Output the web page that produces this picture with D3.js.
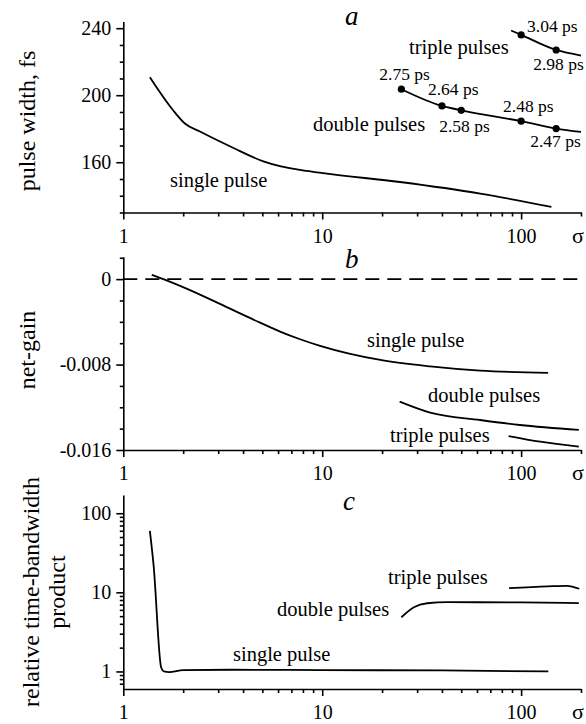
<!DOCTYPE html>
<html lang="en">
<head>
<meta charset="UTF-8">
<title>pulse width, net-gain and time-bandwidth vs sigma</title>
<script src="https://cdn.jsdelivr.net/npm/d3@7"></script>
<style>
  body { margin:0; background:#fff; }
  svg { display:block; font-family: "Liberation Serif", "DejaVu Serif", Times, serif; }
  svg text { font-family: "Liberation Serif", "DejaVu Serif", Times, serif !important; fill:#000; }
  .axis path, .axis line { stroke:#000; stroke-width:1.6px; }
  .axis text { font-size:20px; }
  .curve { fill:none; stroke:#000; stroke-width:1.8px; }
  .lbl { font-size:20.5px; }
  .ps { font-size:17.5px; }
  .ttl { font-size:24px; }
  .pnl { font-size:27px; font-style:italic; }
</style>
</head>
<body>
<svg id="fig" width="586" height="724" font-family="Liberation Serif, serif"></svg>
<script>
// sigma axis, shared by the three panels
const sigmaTicks = [1, 10, 100];
const sigmaMinor = [2,3,4,5,6,7,8,9,20,30,40,50,60,70,80,90,200];

// (a) pulse width, fs
const aSingleSigma = [1.36, 1.78, 2.04, 2.43, 3.58, 5.06, 6.2, 7.74, 10.1, 24.6, 62.3, 142];
const aSingleWidth = [210.7, 191.0, 183.1, 178.3, 168.5, 160.5, 157.5, 155.5, 153.5, 148.2, 141.3, 133.3];
const aDoubleSigma = [25, 40, 50, 100, 150, 200];
const aDoubleWidth = [203.6, 193.6, 191.0, 184.5, 180.1, 178.1];
const aDoubleSep   = ["2.75 ps", "2.64 ps", "2.58 ps", "2.48 ps", "2.47 ps"];
const aTripleSigma = [89, 100, 150, 200];
const aTripleWidth = [238.6, 236.0, 227.0, 223.7];
const aTripleSep   = ["3.04 ps", "2.98 ps"];   // at the 2nd and 3rd points
const aTicks  = [160, 200, 240];
const aMinor  = [130, 140, 150, 170, 180, 190, 210, 220, 230];

// (b) net-gain
const bSingleSigma = [1.39, 1.59, 2.08, 3.06, 4.51, 6.14, 7.74, 9.76, 19.6, 34.9, 62.2, 136.7];
const bSingleGain  = [0.0004, 0, -0.00089, -0.00232, -0.00379, -0.00491, -0.00563, -0.00625, -0.00757, -0.00817, -0.00857, -0.00877];
const bDoubleSigma = [24.5, 34.9, 62.2, 98.6, 195];
const bDoubleGain  = [-0.01147, -0.0125, -0.01319, -0.01366, -0.01412];
const bTripleSigma = [86.5, 124.7, 195];
const bTripleGain  = [-0.01469, -0.01522, -0.01569];
const bTicks  = [0, -0.008, -0.016];
const bLabels = ["0", "-0.008", "-0.016"];
const bMinor  = [0.002, -0.002, -0.004, -0.006, -0.010, -0.012, -0.014];

// (c) relative time-bandwidth product
const cSingleSigma = [1.36, 1.42, 1.55, 1.6, 1.7, 2.0, 3.5, 10, 40, 137];
const cSingleTbp   = [60, 22, 1.12, 1.0, 0.98, 1.04, 1.05, 1.04, 1.03, 1.0];
const cDoubleSigma = [25, 28.9, 33.7, 42.6, 100, 195];
const cDoubleTbp   = [4.84, 6.48, 7.28, 7.5, 7.45, 7.3];
const cTripleSigma = [87, 136, 170, 196];
const cTripleTbp   = [11.3, 11.9, 12.1, 11.1];
const cTicks  = [1, 10, 100];
const cMinor  = [0.7,0.8,0.9,2,3,4,5,6,7,8,9,20,30,40,50,60,70,80,90];

const svg = d3.select("#fig");
const x = d3.scaleLog().domain([1, 200]).range([123.3, 581]);

const yA = d3.scaleLinear().domain([130, 244]).range([212.5, 21.5]);
const yB = d3.scaleLinear().domain([-0.016, 0.0021]).range([450, 256.7]);
const yC = d3.scaleLog().domain([0.6, 170]).range([689, 495]);

function frame(y, majors, labels, minors) {
  const base = y.range()[0];
  const xa = svg.append("g").attr("class", "axis").attr("transform", `translate(0,${base})`);
  xa.call(d3.axisBottom(x).tickValues(sigmaTicks).tickFormat(d3.format("d"))
           .tickSize(7).tickPadding(9).tickSizeOuter(0));
  const xm = svg.append("g").attr("class", "axis").attr("transform", `translate(0,${base})`);
  xm.call(d3.axisBottom(x).tickValues(sigmaMinor).tickFormat("").tickSize(4));
  xm.select(".domain").remove();
  svg.append("text").attr("x", 578).attr("y", base + 30)
     .attr("text-anchor", "middle").style("font-size", "22px").text("σ");

  const x0 = x.range()[0];
  const ya = svg.append("g").attr("class", "axis").attr("transform", `translate(${x0},0)`);
  ya.call(d3.axisLeft(y).tickValues(majors).tickFormat((d, i) => labels[i])
           .tickSize(7).tickPadding(5).tickSizeOuter(0));
  const ym = svg.append("g").attr("class", "axis").attr("transform", `translate(${x0},0)`);
  ym.call(d3.axisLeft(y).tickValues(minors).tickFormat("").tickSize(3.5));
  ym.select(".domain").remove();
}

function curve(y, xs, ys) {
  const line = d3.line().x(d => x(d[0])).y(d => y(d[1])).curve(d3.curveMonotoneX);
  svg.append("path").attr("class", "curve").attr("d", line(d3.zip(xs, ys)));
}

function label(px, py, s, cls) {
  svg.append("text").attr("class", cls || "lbl").attr("x", px).attr("y", py).text(s);
}

function yTitle(cx, cy, s) {
  svg.append("text").attr("class", "ttl").attr("text-anchor", "middle")
     .attr("transform", `translate(${cx},${cy}) rotate(-90)`).attr("dy", "0.3em").text(s);
}

// ---- panel a
frame(yA, aTicks, aTicks.map(String), aMinor);
curve(yA, aSingleSigma, aSingleWidth);
curve(yA, aDoubleSigma, aDoubleWidth);
curve(yA, aTripleSigma, aTripleWidth);

const dblOff = [[-22, -9], [-14, -11], [-22, 22], [-18, -9], [-26, 18]];
aDoubleSep.forEach((s, i) => {
  const px = x(aDoubleSigma[i]), py = yA(aDoubleWidth[i]);
  svg.append("circle").attr("cx", px).attr("cy", py).attr("r", 3.6);
  label(px + dblOff[i][0], py + dblOff[i][1], s, "ps");
});
const triOff = [[6, -3], [-23, 20]];
aTripleSep.forEach((s, i) => {
  const px = x(aTripleSigma[i + 1]), py = yA(aTripleWidth[i + 1]);
  svg.append("circle").attr("cx", px).attr("cy", py).attr("r", 3.6);
  label(px + triOff[i][0], py + triOff[i][1], s, "ps");
});
label(170, 187, "single pulse");
label(313, 131, "double pulses");
label(409, 54, "triple pulses");
svg.append("text").attr("class", "pnl").attr("x", 345).attr("y", 25).text("a");
yTitle(28, 121, "pulse width, fs");

// ---- panel b
frame(yB, bTicks, bLabels, bMinor);
svg.append("line")
   .attr("x1", x.range()[0]).attr("x2", x.range()[1])
   .attr("y1", yB(0)).attr("y2", yB(0))
   .attr("stroke", "#000").attr("stroke-width", 1.8).attr("stroke-dasharray", "14,8");
curve(yB, bSingleSigma, bSingleGain);
curve(yB, bDoubleSigma, bDoubleGain);
curve(yB, bTripleSigma, bTripleGain);
label(367, 347, "single pulse");
label(428, 402, "double pulses");
label(390, 442, "triple pulses");
svg.append("text").attr("class", "pnl").attr("x", 345).attr("y", 268).text("b");
yTitle(28, 350, "net-gain");

// ---- panel c
frame(yC, cTicks, cTicks.map(String), cMinor);
curve(yC, cSingleSigma, cSingleTbp);
curve(yC, cDoubleSigma, cDoubleTbp);
curve(yC, cTripleSigma, cTripleTbp);
label(233, 661, "single pulse");
label(277, 616, "double pulses");
label(388, 584, "triple pulses");
svg.append("text").attr("class", "pnl").attr("x", 343).attr("y", 510).text("c");
yTitle(32, 592, "relative time-bandwidth");
yTitle(58, 592, "product");
</script>
</body>
</html>
